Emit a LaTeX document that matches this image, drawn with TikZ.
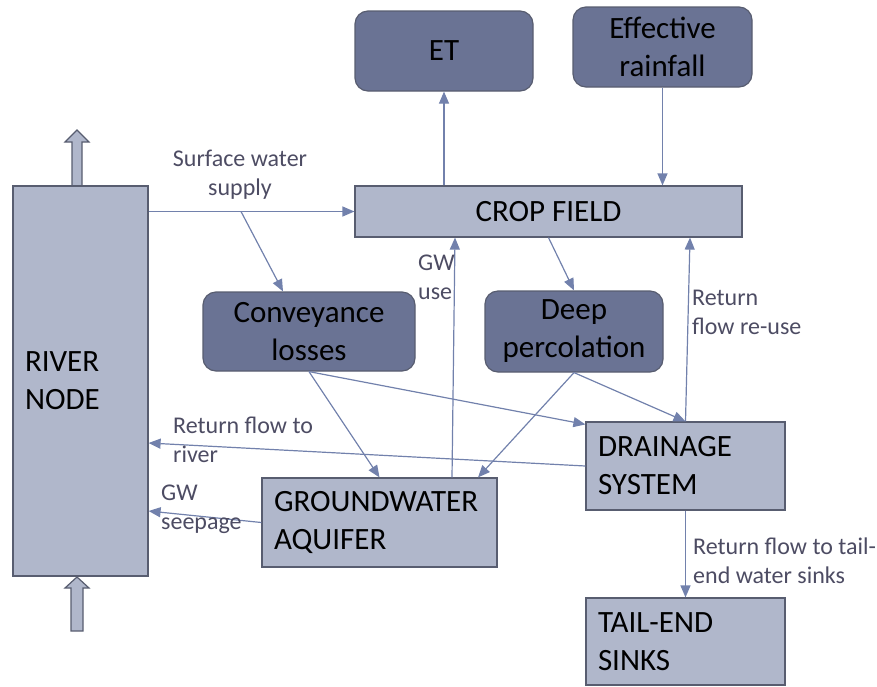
\documentclass[tikz,border=0pt]{standalone}
\usepackage{fontspec}
\setmainfont{Carlito}
\usetikzlibrary{arrows.meta}

\begin{document}
\begin{tikzpicture}[x=1pt, y=-1pt,
    kasten/.style={fill=kastenhell, draw=rand, line width=1.2pt,
      font=\fontsize{31}{38}\selectfont, inner xsep=12pt, align=left},
    bilanz/.style={fill=kastendunkel, draw=rand, line width=1.2pt,
      rounded corners=13pt, font=\fontsize{31}{38}\selectfont, align=center},
    fluss/.style={pfeil, line width=1.2pt, -{Triangle[length=12pt, width=10pt]}},
    beschriftung/.style={text=schrift, font=\fontsize{24}{29}\selectfont,
      inner sep=0pt, align=left},
    blockpfeil/.style={fill=kastenhell, draw=rand, line width=1.2pt, line join=miter},
  ]
  \definecolor{kastenhell}{RGB}{176,183,203}
  \definecolor{kastendunkel}{RGB}{106,115,148}
  \definecolor{rand}{RGB}{88,93,112}
  \definecolor{pfeil}{RGB}{114,129,172}
  \definecolor{schrift}{RGB}{77,76,99}

  \useasboundingbox (0,0) rectangle (877,686);

  % ---------------- Fluss: Zu- und Abfluss des Knotens --------------
  \path[blockpfeil] (72,186) -- (72,142) -- (65,142) -- (77,130) -- (89,142)
    -- (82,142) -- (82,186);
  \path[blockpfeil] (77,577) -- (89,588) -- (83,588) -- (83,631) -- (71,631)
    -- (71,588) -- (65,588) -- cycle;
  \node[kasten, text width=111pt, minimum height=390pt] (river) at (80.5,381)
    {RIVER\\NODE};

  % ---------------- Bilanzgroessen (oben und Mitte) -----------------
  \node[bilanz, minimum width=178pt, minimum height=80pt] (et) at (444,51) {ET};
  \node[bilanz, minimum width=179pt, minimum height=80pt] (regen) at (662.5,47)
    {Effective\\rainfall};
  \node[bilanz, minimum width=212pt, minimum height=79pt] (verlust) at (309,331.5)
    {Conveyance\\losses};
  \node[bilanz, minimum width=178pt, minimum height=81pt] (perkol) at (574,331.5)
    {Deep\\percolation};

  % ---------------- Feld, Grundwasser, Drainage ---------------------
  \node[kasten, align=center, minimum width=387pt, minimum height=51pt] (feld)
    at (548.5,211.5) {CROP FIELD};
  \node[kasten, text width=211pt, minimum height=89pt] (aquifer) at (379.5,522.5)
    {GROUNDWATER\\AQUIFER};
  \node[kasten, text width=175pt, minimum height=88pt] (drain) at (685.5,466)
    {DRAINAGE\\SYSTEM};
  \node[kasten, text width=175pt, minimum height=87pt] (senke) at (685.5,641.5)
    {TAIL-END\\SINKS};

  % ---------------- Fluesse -----------------------------------------
  \coordinate (abzweig) at (241,211.5);
  \draw[fluss] (feld.west -| river.east) -- (feld.west);
  \draw[fluss] (abzweig) -- ([xshift=-26pt]verlust.north);
  \draw[fluss] (feld.north -| et.south) -- (et.south);
  \draw[fluss] (regen.south) -- (regen.south |- feld.north);
  \draw[fluss] (feld.south) -- (perkol.north);
  \draw[fluss] ([xshift=72.5pt]aquifer.north) -- ([xshift=-93.5pt]feld.south);
  \draw[fluss] (drain.north) -- ([xshift=141.5pt]feld.south);
  \draw[fluss] (perkol.south) -- (drain.north);
  \draw[fluss] (perkol.south) -- ([xshift=98.5pt]aquifer.north);
  \draw[fluss] (verlust.south) -- (aquifer.north);
  \draw[fluss] (verlust.south) -- ([yshift=-3pt]drain.north west);
  \draw[fluss] (drain.west) -- ([yshift=-62pt]river.east);
  \draw[fluss] (aquifer.west) -- ([yshift=-130pt]river.east);
  \draw[fluss] (drain.south) -- (senke.north);

  % ---------------- Beschriftungen ----------------------------------
  \node[beschriftung, align=center, anchor=north] (lversorg) at (240,150)
    {Surface water\\supply};
  \node[beschriftung, anchor=north west] (lgwnutz) at (418,255) {GW\\use};
  \node[beschriftung, anchor=north west] (lwieder) at (692,290)
    {Return\\flow re-use};
  \node[beschriftung, anchor=north west] (lrueck) at (173,417)
    {Return flow to\\river};
  \node[beschriftung, anchor=north west] (lsicker) at (161,485)
    {GW\\seepage};
  \node[beschriftung, anchor=north west] (lsenke) at (693,538)
    {Return flow to tail-\\end water sinks};
\end{tikzpicture}
\end{document}
